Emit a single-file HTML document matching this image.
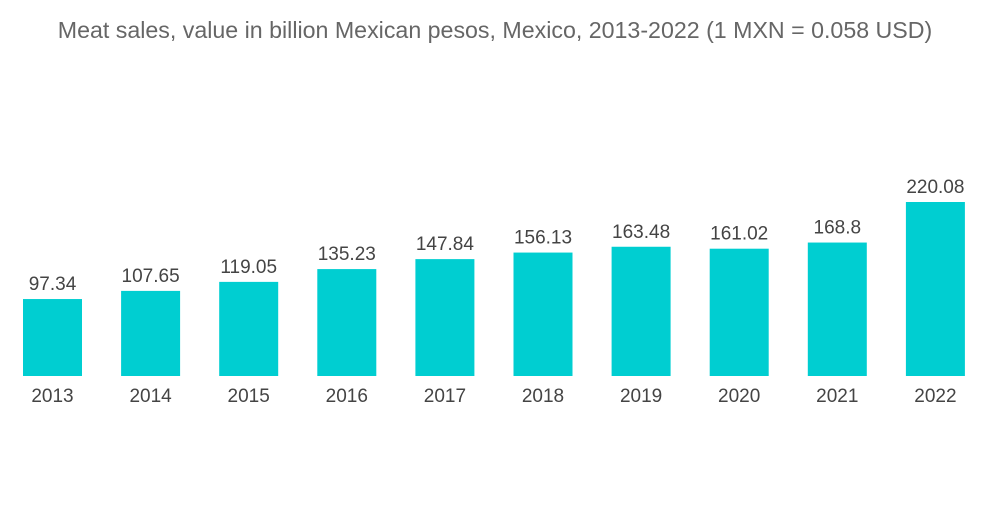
<!DOCTYPE html>
<html><head><meta charset="utf-8"><style>
body{margin:0;background:#fff;}
svg text{font-family:"Liberation Sans",sans-serif;}
</style></head><body>
<svg width="1000" height="504">
<text x="495" y="38" text-anchor="middle" font-size="23.2" fill="#666">Meat sales, value in billion Mexican pesos, Mexico, 2013-2022 (1 MXN = 0.058 USD)</text>
<g id="bars"></g>
</svg>
<script>
const categories=["2013","2014","2015","2016","2017","2018","2019","2020","2021","2022"];
const values=[97.34,107.65,119.05,135.23,147.84,156.13,163.48,161.02,168.8,220.08];
const labels=["97.34","107.65","119.05","135.23","147.84","156.13","163.48","161.02","168.8","220.08"];
const base=376,k=0.7906,x0=23,step=98.1,bw=59;
const g=document.getElementById('bars');const ns="http://www.w3.org/2000/svg";
function y(v){return base-v*k;}
categories.forEach((c,i)=>{
 const x=x0+i*step;
 const r=document.createElementNS(ns,'rect');
 r.setAttribute('x',x);r.setAttribute('y',y(values[i]));r.setAttribute('width',bw);r.setAttribute('height',base-y(values[i]));r.setAttribute('fill','#00ced1');
 
 
 g.appendChild(r);
 const t=document.createElementNS(ns,'text');
 t.setAttribute('x',x+bw/2);t.setAttribute('y',y(values[i])-9);t.setAttribute('text-anchor','middle');t.setAttribute('font-size','19');t.setAttribute('fill','#444');t.textContent=labels[i];
 
 
 g.appendChild(t);
 const a=document.createElementNS(ns,'text');
 a.setAttribute('x',x+bw/2);a.setAttribute('y',402);a.setAttribute('text-anchor','middle');a.setAttribute('font-size','19');a.setAttribute('fill','#444');a.textContent=c;
 
 
 g.appendChild(a);
});
</script>
</body></html>
